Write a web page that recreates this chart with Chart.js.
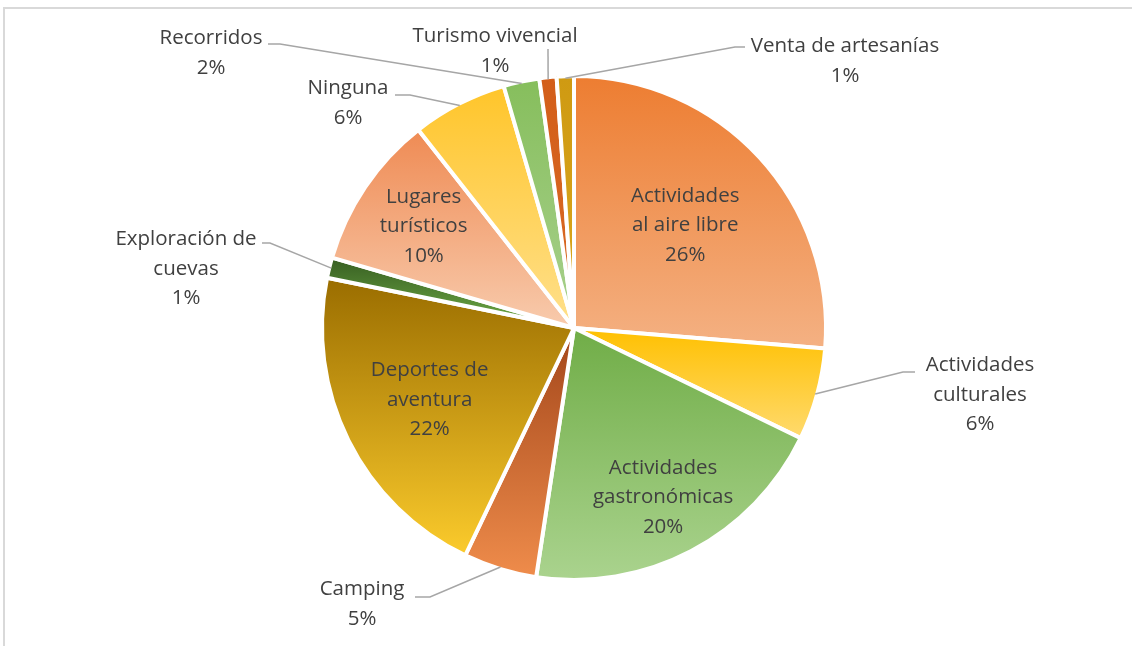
<!DOCTYPE html>
<html lang="es">
<head>
<meta charset="UTF-8">
<title>Actividades preferidas</title>
<script src="https://cdn.jsdelivr.net/npm/chart.js"></script>
<style>
    body { margin: 0; background: #fff; }
    #wrap { position: relative; width: 1132px; height: 646px; }
    #frame {
        position: absolute; left: 3px; top: 7px; right: 0; bottom: 0;
        border-top: 2px solid #d9d9d9; border-left: 2px solid #d9d9d9;
    }
    canvas { position: absolute; left: 0; top: 0; }
</style>
</head>
<body>
<div id="wrap">
    <div id="frame"></div>
    <canvas id="pie" width="1132" height="646"></canvas>
</div>
<script>
// data (shares of answers, %)
const categories = [
    'Actividades al aire libre', 'Actividades culturales', 'Actividades gastronómicas',
    'Camping', 'Deportes de aventura', 'Exploración de cuevas', 'Lugares turísticos',
    'Ninguna', 'Recorridos', 'Turismo vivencial', 'Venta de artesanías'
];
const shares = [26.3, 5.9, 20.2, 4.7, 21.1, 1.3, 9.9, 6.1, 2.3, 1.1, 1.1];
const pctLabels = ['26%', '6%', '20%', '5%', '22%', '1%', '10%', '6%', '2%', '1%', '1%'];

// how each label is split into lines
const labelLines = [
    ['Actividades', 'al aire libre'], ['Actividades', 'culturales'], ['Actividades', 'gastronómicas'],
    ['Camping'], ['Deportes de', 'aventura'], ['Exploración de', 'cuevas'], ['Lugares', 'turísticos'],
    ['Ninguna'], ['Recorridos'], ['Turismo vivencial'], ['Venta de artesanías']
];

// gradient colours, top -> bottom of each slice
const sliceColors = [
    ['#ED7D31', '#F4B183'], ['#FFC000', '#FFDA6E'], ['#70AD47', '#AAD38E'],
    ['#A3461A', '#EF8C4B'], ['#9A6D00', '#FBCB2C'], ['#375E22', '#70AD47'],
    ['#EF8B54', '#F8CBAD'], ['#FFC52A', '#FFE08C'], ['#86BE5C', '#A9D18E'],
    ['#D35E1A', '#D96A25'], ['#CF9A12', '#D9A71E']
];

// label placement: inside = fraction of radius along mid angle,
// outside = text centre / leader elbow / leader end relative to pie centre
const labelPlace = [
    { inside: 0.60 },
    { text: [406, 67], elbow: [329, 44], end: [341, 44] },
    { inside: 0.76 },
    { text: [-212, 276], elbow: [-144, 269], end: [-159, 269] },
    { inside: 0.64 },
    { text: [-388, -59], elbow: [-304, -85], end: [-312, -85] },
    { inside: 0.72 },
    { text: [-226, -225], elbow: [-164, -233], end: [-179, -233] },
    { text: [-363, -275], elbow: [-294, -284], end: [-306, -284] },
    { text: [-79, -277], elbow: [-26, -279], end: [-26, -279] },
    { text: [271, -267], elbow: [161, -281], end: [171, -281] }
];

const FONT = '20.5px "Open Sans"';
const LINE_H = 29.5;

// vertical gradient over each slice's own bounding box
const gradientPlugin = {
    id: 'sliceGradient',
    beforeDatasetsDraw(chart) {
        const ctx = chart.ctx;
        chart.getDatasetMeta(0).data.forEach((arc, i) => {
            const { x, y, startAngle, endAngle, outerRadius } = arc.getProps(['x', 'y', 'startAngle', 'endAngle', 'outerRadius']);
            let ys = [y, y + outerRadius * Math.sin(startAngle), y + outerRadius * Math.sin(endAngle)];
            const has = (a) => {
                let t = startAngle;
                while (a < t) a += Math.PI * 2;
                return a <= endAngle;
            };
            if (has(-Math.PI / 2)) ys.push(y - outerRadius);
            if (has(Math.PI / 2)) ys.push(y + outerRadius);
            const g = ctx.createLinearGradient(0, Math.min(...ys), 0, Math.max(...ys));
            g.addColorStop(0, sliceColors[i][0]);
            g.addColorStop(1, sliceColors[i][1]);
            arc.options.backgroundColor = g;
        });
    }
};

const labelPlugin = {
    id: 'pieLabels',
    afterDatasetsDraw(chart) {
        const ctx = chart.ctx;
        ctx.save();
        ctx.font = FONT;
        ctx.fillStyle = '#404040';
        ctx.textAlign = 'center';
        ctx.textBaseline = 'middle';
        chart.getDatasetMeta(0).data.forEach((arc, i) => {
            const { x, y, startAngle, endAngle, outerRadius } = arc.getProps(['x', 'y', 'startAngle', 'endAngle', 'outerRadius']);
            const mid = (startAngle + endAngle) / 2;
            const p = labelPlace[i];
            const lines = labelLines[i].concat([pctLabels[i]]);
            let cx, cy;
            if (p.inside) {
                cx = x + Math.cos(mid) * outerRadius * p.inside;
                cy = y + Math.sin(mid) * outerRadius * p.inside;
            } else {
                cx = x + p.text[0];
                cy = y + p.text[1];
                ctx.beginPath();
                ctx.strokeStyle = '#A6A6A6';
                ctx.lineWidth = 1.5;
                ctx.moveTo(x + Math.cos(mid) * (outerRadius - 2), y + Math.sin(mid) * (outerRadius - 2));
                ctx.lineTo(x + p.elbow[0], y + p.elbow[1]);
                ctx.lineTo(x + p.end[0], y + p.end[1]);
                ctx.stroke();
            }
            const top = cy - (lines.length - 1) * LINE_H / 2;
            lines.forEach((t, k) => ctx.fillText(t, cx, top + k * LINE_H));
        });
        ctx.restore();
    }
};

new Chart(document.getElementById('pie'), {
    type: 'pie',
    data: {
        labels: categories,
        datasets: [{
            data: shares,
            backgroundColor: sliceColors.map(c => c[0]),
            borderColor: '#ffffff',
            borderWidth: 4
        }]
    },
    options: {
        responsive: false,
        animation: false,
        layout: { padding: { left: 320, right: 304, top: 74, bottom: 64 } },
        plugins: {
            legend: { display: false },
            tooltip: { enabled: false }
        }
    },
    plugins: [gradientPlugin, labelPlugin]
});
</script>
</body>
</html>
